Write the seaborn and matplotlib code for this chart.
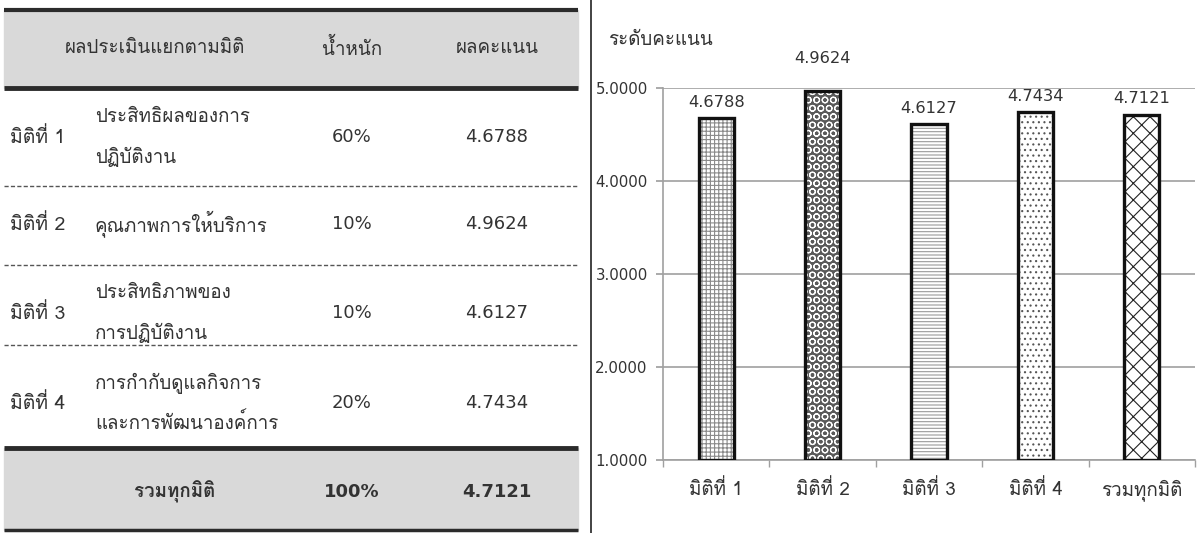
import matplotlib
matplotlib.use("Agg")
import matplotlib.pyplot as plt
from matplotlib import font_manager as fm
from matplotlib.ft2font import FT2Font
from matplotlib.lines import Line2D
from matplotlib.ticker import FixedLocator, FormatStrFormatter
import seaborn as sns
import pandas as pd

# ---- data ----
dimension_labels = ["มิติที่ 1", "มิติที่ 2", "มิติที่ 3", "มิติที่ 4"]
dimension_names = [
    ["ประสิทธิผลของการ", "ปฏิบัติงาน"],
    ["คุณภาพการให้บริการ"],
    ["ประสิทธิภาพของ", "การปฏิบัติงาน"],
    ["การกำกับดูแลกิจการ", "และการพัฒนาองค์การ"],
]
weights = [60, 10, 10, 20]
scores = [4.6788, 4.9624, 4.6127, 4.7434]
total_label = "รวมทุกมิติ"
total_weight = 100
total_score = 4.7121
header_labels = ["ผลประเมินแยกตามมิติ", "น้ำหนัก", "ผลคะแนน"]
y_title = "ระดับคะแนน"
y_ticks = [1, 2, 3, 4, 5]

categories = dimension_labels + [total_label]
values = scores + [total_score]

sns.set_theme(style="white")


def find_thai_family():
    preferred = ["Tahoma", "Loma", "Garuda", "Noto Sans Thai", "Sarabun",
                 "Noto Sans Thai UI", "Norasi", "Kinnari", "Waree"]
    found = []
    for f in fm.fontManager.ttflist:
        try:
            cmap = FT2Font(f.fname).get_charmap()
        except Exception:
            continue
        if 0x0E01 in cmap and 0x0E34 in cmap:
            found.append(f.name)
    for p in preferred:
        if p in found:
            return p
    return found[0] if found else None


thai = find_thai_family()
families = ([thai] if thai else []) + ["DejaVu Sans"]
plt.rcParams["font.family"] = families
plt.rcParams["hatch.linewidth"] = 0.8
num_font = "DejaVu Sans"

W, H = 1204, 533
fig = plt.figure(figsize=(W / 100, H / 100), dpi=100)

# ---- summary table (left) ----
tab = fig.add_axes([0, 0, 590 / W, 1])
tab.set_xlim(0, 590)
tab.set_ylim(H, 0)
tab.axis("off")

txt = "#333333"
band = "#d9d9d9"
x0, x1 = 4, 578
tab.fill_between([x0, x1], 10, 88, color=band, zorder=0)
tab.fill_between([x0, x1], 448, 530, color=band, zorder=0)
for yy, lw in [(10, 3), (88, 3.5), (448, 3.5), (530, 2.5)]:
    tab.plot([x0, x1], [yy, yy], color="#2b2b2b", lw=lw, solid_capstyle="butt")
for yy in [186, 265, 345]:
    tab.plot([x0, x1], [yy, yy], color="#555555", lw=1, dashes=(3, 1.6))

col_name, col_w, col_s = 155, 352, 497
fs = 13.5
nfs = 13
tab.text(col_name, 48, header_labels[0], ha="center", va="center", fontsize=fs, color=txt)
tab.text(col_w, 48, header_labels[1], ha="center", va="center", fontsize=fs, color=txt)
tab.text(col_s, 48, header_labels[2], ha="center", va="center", fontsize=fs, color=txt)

row_centers = [137, 224, 313, 403]
for lab, name, w, s, yc in zip(dimension_labels, dimension_names, weights, scores, row_centers):
    tab.text(10, yc, lab, ha="left", va="center", fontsize=fs + 0.5, color=txt)
    n = len(name)
    for i, line in enumerate(name):
        yy = yc + (i - (n - 1) / 2) * 39
        tab.text(95, yy, line, ha="left", va="center", fontsize=fs, color=txt)
    tab.text(col_w, yc, f"{w}%", ha="center", va="center", fontsize=nfs, color=txt,
             family=num_font)
    tab.text(col_s, yc, f"{s:.4f}", ha="center", va="center", fontsize=nfs, color=txt,
             family=num_font)

tab.text(175, 492, total_label, ha="center", va="center", fontsize=fs, color=txt, weight="bold")
tab.text(col_w, 492, f"{total_weight}%", ha="center", va="center", fontsize=nfs, color=txt,
         weight="bold", family=num_font)
tab.text(col_s, 492, f"{total_score:.4f}", ha="center", va="center", fontsize=nfs, color=txt,
         weight="bold", family=num_font)

# separator between table and chart
fig.add_artist(Line2D([591 / W, 591 / W], [0, 1], color="#222222", lw=1.2))

# ---- bar chart (right) ----
ax = fig.add_axes([663 / W, 1 - 460 / H, (1195 - 663) / W, (460 - 88) / H])
df = pd.DataFrame({"dim": categories, "score": values})

sns.barplot(data=df, x="dim", y="score", ax=ax, width=0.33,
            color="white", linewidth=0, saturation=1, zorder=2)
fills = list(ax.patches)
sns.barplot(data=df, x="dim", y="score", ax=ax, width=0.33,
            fill=False, edgecolor="#111111", linewidth=2.4, zorder=3)
outlines = [p for p in ax.patches if p not in fills]

floor = y_ticks[0]
styles = [
    ("white", "#8a8a8a", "++++"),
    ("#5a5a5a", "white", "OO"),
    ("white", "#9a9a9a", "-----"),
    ("white", "#555555", "..."),
    ("white", "#222222", "xx"),
]
for p, (fc, hc, h) in zip(fills, styles):
    p.set_facecolor(fc)
    p.set_edgecolor(hc)
    p.set_hatch(h)
    p.set_linewidth(0)
for p in fills + outlines:
    top = p.get_y() + p.get_height()
    p.set_y(floor)
    p.set_height(top - floor)

ax.set_ylim(floor, y_ticks[-1])
ax.set_xlim(-0.5, len(categories) - 0.5)
ax.yaxis.set_major_locator(FixedLocator(y_ticks))
ax.yaxis.set_major_formatter(FormatStrFormatter("%.4f"))
ax.grid(axis="y", color="#a0a0a0", lw=1.2, zorder=0)
ax.set_axisbelow(True)
for side in ["top", "right"]:
    ax.spines[side].set_visible(False)
for side in ["left", "bottom"]:
    ax.spines[side].set_color("#a0a0a0")
    ax.spines[side].set_linewidth(1.2)
ax.set_xlabel("")
ax.set_ylabel("")
ax.tick_params(axis="y", left=True, length=5, color="#a0a0a0", labelsize=10.8,
               labelcolor="#333333", pad=6)
for t in ax.get_yticklabels():
    t.set_family(num_font)
ax.tick_params(axis="x", bottom=False, length=0, labelsize=13.5,
               labelcolor="#333333", pad=14)
ax.xaxis.set_minor_locator(FixedLocator([i - 0.5 for i in range(len(categories) + 1)]))
ax.tick_params(axis="x", which="minor", bottom=True, length=5, color="#a0a0a0")

anns = ax.bar_label(ax.containers[0], labels=[f"{v:.4f}" for v in values],
                    padding=6, fontsize=11.7, color="#333333", family=num_font)
# lift a label whose text would sit on the top gridline
for ann, v in zip(anns, values):
    if v > y_ticks[-1] - 0.15:
        ann.xyann = (0, 18)

fig.text(608 / W, 1 - 40 / H, y_title, ha="left", va="center", fontsize=13.5, color="#333333")

fig.savefig("out.png", dpi=100)
